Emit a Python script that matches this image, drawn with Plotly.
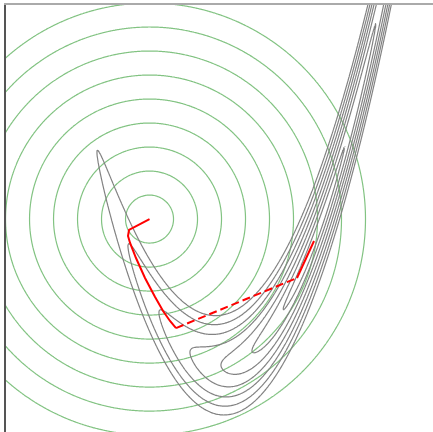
import numpy as np
import plotly.graph_objects as go

# --- data (data units) ---
x_range = [-2.277, 2.266]
y_range = [-0.540, 2.903]

# gray contours: sqrt of a Rosenbrock-type function, equally spaced levels
rosen_a = 1.0
rosen_b = 27.0
gray_level_step = 0.33
gray_level_count = 7

# green contours: circles around the starting point
circle_center = [-0.750, 1.177]
circle_aspect = 1.319          # screen-y / screen-x units ratio
circle_step = 0.2553
circle_count = 9

# red path (solid part 1, dashed jump, solid part 2)
path1_x = [-0.750, -0.968, -0.979, -0.957, -0.894, -0.798, -0.691, -0.606, -0.532, -0.468]
path1_y = [1.177, 1.089, 1.040, 0.984, 0.863, 0.702, 0.548, 0.435, 0.355, 0.298]
jump_x = [-0.468, 0.819]
jump_y = [0.298, 0.702]
path2_x = [0.819, 0.904, 1.000]
path2_y = [0.702, 0.847, 1.000]

# --- grids ---
gx = np.linspace(-2.35, 2.35, 420)
gy = np.linspace(-0.65, 3.0, 420)
X, Y = np.meshgrid(gx, gy)
Z_rosen = np.sqrt((rosen_a - X) ** 2 + rosen_b * (Y - X ** 2) ** 2)
Z_circ = np.sqrt((X - circle_center[0]) ** 2 + (circle_aspect * (Y - circle_center[1])) ** 2)

fig = go.Figure()

fig.add_trace(go.Contour(
    x=gx, y=gy, z=Z_circ,
    contours=dict(coloring="lines", start=circle_step,
                  end=circle_step * circle_count, size=circle_step),
    colorscale=[[0, "rgb(130,195,130)"], [1, "rgb(130,195,130)"]],
    line=dict(width=1.2, smoothing=1.0),
    showscale=False, hoverinfo="skip",
))

fig.add_trace(go.Contour(
    x=gx, y=gy, z=Z_rosen,
    contours=dict(coloring="lines", start=gray_level_step,
                  end=gray_level_step * gray_level_count, size=gray_level_step),
    colorscale=[[0, "rgb(130,130,130)"], [1, "rgb(130,130,130)"]],
    line=dict(width=1.2, smoothing=1.0),
    showscale=False, hoverinfo="skip",
))

fig.add_trace(go.Scatter(x=path1_x, y=path1_y, mode="lines",
                         line=dict(color="red", width=2), hoverinfo="skip"))
fig.add_trace(go.Scatter(x=jump_x, y=jump_y, mode="lines",
                         line=dict(color="red", width=2, dash="8px,4px"), hoverinfo="skip"))
fig.add_trace(go.Scatter(x=path2_x, y=path2_y, mode="lines",
                         line=dict(color="red", width=2), hoverinfo="skip"))

fig.update_layout(
    width=433, height=432,
    margin=dict(l=6, r=0, t=5, b=0),
    paper_bgcolor="white", plot_bgcolor="white",
    showlegend=False,
    hovermode=False,
    xaxis=dict(range=x_range, showgrid=False, zeroline=False, showticklabels=False,
               ticks="", side="top", showline=True, linecolor="#aaaaaa", linewidth=2),
    yaxis=dict(range=y_range, showgrid=False, zeroline=False, showticklabels=False,
               ticks="", showline=True, linecolor="#555555", linewidth=2),
)

fig.write_html("out.html",
               config={"displayModeBar": False, "staticPlot": True},
               post_script="document.body.style.margin='0';document.body.style.overflow='hidden';")
